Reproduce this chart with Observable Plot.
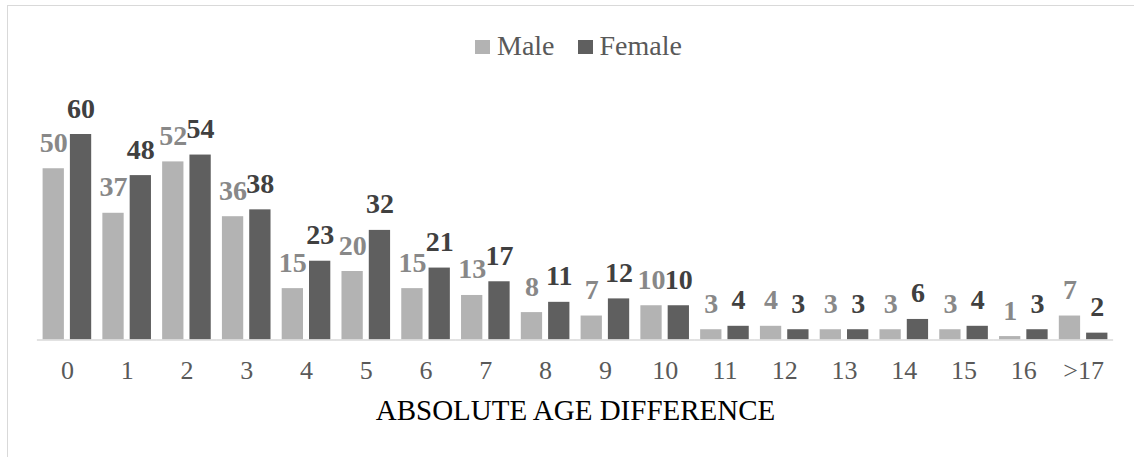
<!DOCTYPE html>
<html>
<head>
<meta charset="utf-8">
<script src="https://cdn.jsdelivr.net/npm/d3@7"></script>
<script src="https://cdn.jsdelivr.net/npm/@observablehq/plot@0.6"></script>
<style>
  html, body { margin: 0; padding: 0; background: #fff; }
  #chart { position: relative; width: 1134px; height: 457px; overflow: hidden;
           font-family: "Liberation Serif", "Times New Roman", serif; }
  #frame { position: absolute; left: 7px; top: 5px; width: 1300px; height: 700px;
           border: 1.5px solid #d9d9d9; box-sizing: border-box; }
  #legend { position: absolute; left: 475px; top: 32px; display: flex; align-items: center;
            font-family: "Liberation Serif", "Times New Roman", serif;
            font-size: 28px; line-height: 28px; color: #595959; }
  #legend .sw { width: 15px; height: 14px; margin-right: 7px; margin-top: 2px; }
  #legend .item { display: flex; align-items: center; margin-right: 23px; }
  #plot { position: absolute; left: 0; top: 0; }
</style>
</head>
<body>
<div id="chart">
  <div id="frame"></div>
  <div id="legend"></div>
  <div id="plot"></div>
</div>
<script>
// Age-difference categories and respondent counts per sex
const categories = ["0", "1", "2", "3", "4", "5", "6", "7", "8", "9", "10", "11", "12", "13", "14", "15", "16", ">17"];
const series = ["Male", "Female"];
const maleCounts = [50, 37, 52, 36, 15, 20, 15, 13, 8, 7, 10, 3, 4, 3, 3, 3, 1, 7];
const femaleCounts = [60, 48, 54, 38, 23, 32, 21, 17, 11, 12, 10, 4, 3, 3, 6, 4, 3, 2];
const barColors = ["#b3b3b3", "#5f5f5f"];
const labelColors = ["#888888", "#404040"];
const serif = "'Liberation Serif', 'Times New Roman', serif";

const rows = categories.flatMap((c, i) => [
  {cat: c, sex: "Male", value: maleCounts[i]},
  {cat: c, sex: "Female", value: femaleCounts[i]}
]);

// Legend
const legend = document.getElementById("legend");
series.forEach((s, i) => {
  const item = document.createElement("div");
  item.className = "item";
  const sw = document.createElement("span");
  sw.className = "sw";
  sw.style.background = barColors[i];
  const lab = document.createElement("span");
  lab.textContent = s;
  item.append(sw, lab);
  legend.append(item);
});

const labelMark = (s, i) => Plot.text(rows.filter(d => d.sex === s), {
  fx: "cat", x: "sex", y: "value", text: d => String(d.value),
  fill: labelColors[i], fontSize: 28, fontWeight: "bold", fontFamily: serif,
  lineAnchor: "bottom", dy: -17
});

const chart = Plot.plot({
  width: 1134,
  height: 457,
  marginLeft: 37,
  marginRight: 21,
  marginTop: 134,
  marginBottom: 117.5,
  style: {fontFamily: serif, background: "transparent", overflow: "visible"},
  fx: {domain: categories, paddingInner: 0.187, paddingOuter: 0.0935, round: false, label: "ABSOLUTE AGE DIFFERENCE"},
  x: {domain: series, paddingInner: 0.22, paddingOuter: 0, round: false, axis: null},
  y: {domain: [0, 60], axis: null},
  color: {domain: series, range: barColors},
  marks: [
    Plot.barY(rows, {fx: "cat", x: "sex", y: "value", fill: "sex"}),
    Plot.ruleY([0], {stroke: "#d9d9d9", strokeWidth: 1.5, insetLeft: -5.7, insetRight: -5.7}),
    labelMark("Male", 0),
    labelMark("Female", 1),
    Plot.axisFx({
      anchor: "bottom", tickSize: 0, tickPadding: 21, fontSize: 26, color: "#595959", fontFamily: serif,
      label: "ABSOLUTE AGE DIFFERENCE", labelAnchor: "center", labelArrow: "none", labelOffset: 80
    })
  ]
});

// Axis title styling
d3.select(chart).selectAll('g[aria-label="fx-axis label"] text')
  .attr("fill", "#000").style("font-size", "29px");

document.getElementById("plot").append(chart);
</script>
</body>
</html>
